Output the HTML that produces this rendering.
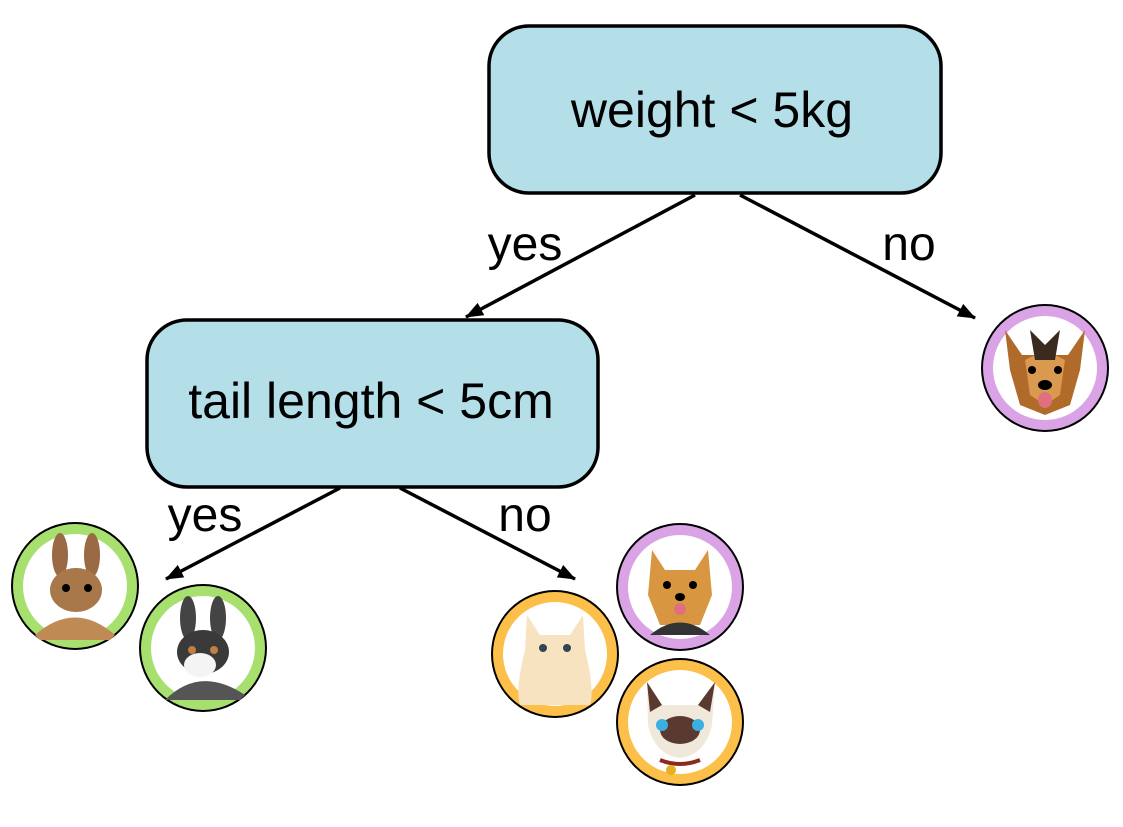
<!DOCTYPE html>
<html><head><style>
html,body{margin:0;padding:0;background:#fff;}
svg{display:block;}
text{font-family:"Liberation Sans",sans-serif;fill:#000;}
</style></head><body>
<svg width="1123" height="827" viewBox="0 0 1123 827" xmlns="http://www.w3.org/2000/svg">
<defs>
<marker id="a2" markerWidth="18" markerHeight="14" refX="17" refY="7" orient="auto" markerUnits="userSpaceOnUse">
<path d="M0,0 L18,7 L0,14 z" fill="#000"/>
</marker>
</defs>
<rect x="489" y="26" width="452" height="167" rx="40" fill="#b4dfe9" stroke="#000" stroke-width="3.5"/>
<text x="712" y="127" font-size="50" text-anchor="middle">weight &lt; 5kg</text>
<rect x="147" y="320" width="451" height="167" rx="40" fill="#b4dfe9" stroke="#000" stroke-width="3.5"/>
<text x="371" y="418" font-size="50" text-anchor="middle">tail length &lt; 5cm</text>

<g stroke="#000" stroke-width="3.5" fill="none">
<line x1="695" y1="195" x2="466" y2="317" marker-end="url(#a2)"/>
<line x1="740" y1="195" x2="975" y2="318" marker-end="url(#a2)"/>
<line x1="340" y1="488" x2="166" y2="579" marker-end="url(#a2)"/>
<line x1="400" y1="488" x2="575" y2="579" marker-end="url(#a2)"/>
</g>
<text x="525" y="260" font-size="48" text-anchor="middle">yes</text>
<text x="909" y="260" font-size="48" text-anchor="middle">no</text>
<text x="205" y="531" font-size="48" text-anchor="middle">yes</text>
<text x="525" y="531" font-size="48" text-anchor="middle">no</text>

<g>
<circle cx="1045" cy="368" r="64" fill="#000"/><circle cx="1045" cy="368" r="62" fill="#d9a3e6"/><circle cx="1045" cy="368" r="52" fill="#fff"/>
<path d="M1005,330 L1022,355 L1068,355 L1085,330 L1080,370 L1070,405 L1045,415 L1020,405 L1010,370 z" fill="#b06a2a"/>
<path d="M1025,360 L1045,350 L1065,360 L1060,395 L1045,405 L1030,395 z" fill="#d99a50"/>
<path d="M1030,330 L1045,345 L1060,330 L1055,360 L1035,360 z" fill="#3a2a20"/>
<circle cx="1032" cy="370" r="4" fill="#000"/><circle cx="1058" cy="370" r="4" fill="#000"/>
<ellipse cx="1045" cy="385" rx="7" ry="5" fill="#000"/><ellipse cx="1045" cy="400" rx="7" ry="8" fill="#e07080"/>

<circle cx="75" cy="586" r="64" fill="#000"/><circle cx="75" cy="586" r="62" fill="#a8e070"/><circle cx="75" cy="586" r="52" fill="#fff"/>
<ellipse cx="60" cy="555" rx="8" ry="22" fill="#9a6a45"/><ellipse cx="92" cy="555" rx="8" ry="22" fill="#9a6a45"/>
<ellipse cx="76" cy="590" rx="26" ry="22" fill="#a8774a"/><path d="M35,635 Q75,600 115,635 L110,640 L40,640 z" fill="#c08a55"/>
<circle cx="66" cy="588" r="4" fill="#000"/><circle cx="88" cy="588" r="4" fill="#000"/>

<circle cx="203" cy="648" r="64" fill="#000"/><circle cx="203" cy="648" r="62" fill="#a8e070"/><circle cx="203" cy="648" r="52" fill="#fff"/>
<ellipse cx="188" cy="618" rx="8" ry="22" fill="#444"/><ellipse cx="218" cy="618" rx="8" ry="22" fill="#444"/>
<ellipse cx="203" cy="652" rx="26" ry="22" fill="#3a3a3a"/><ellipse cx="200" cy="665" rx="16" ry="12" fill="#f4f4f4"/>
<path d="M165,700 Q200,665 245,695 L240,700 z" fill="#555"/>
<circle cx="192" cy="650" r="4" fill="#c08040"/><circle cx="214" cy="650" r="4" fill="#c08040"/>

<circle cx="555" cy="654" r="64" fill="#000"/><circle cx="555" cy="654" r="62" fill="#fcbf4a"/><circle cx="555" cy="654" r="52" fill="#fff"/>
<path d="M527,615 L540,635 L570,635 L583,615 L585,650 Q595,690 590,705 L520,705 Q515,690 525,650 z" fill="#f7e3c0"/>
<circle cx="543" cy="648" r="4" fill="#345"/><circle cx="567" cy="648" r="4" fill="#345"/>

<circle cx="680" cy="587" r="64" fill="#000"/><circle cx="680" cy="587" r="62" fill="#d9a3e6"/><circle cx="680" cy="587" r="52" fill="#fff"/>
<path d="M652,550 L665,570 L695,570 L708,550 L712,595 L700,625 L660,625 L648,595 z" fill="#d89640"/>
<path d="M650,635 Q680,610 710,635 z" fill="#333"/>
<circle cx="667" cy="585" r="4" fill="#000"/><circle cx="693" cy="585" r="4" fill="#000"/>
<ellipse cx="680" cy="597" rx="5" ry="4" fill="#000"/><ellipse cx="680" cy="609" rx="6" ry="6" fill="#e07080"/>

<circle cx="680" cy="722" r="64" fill="#000"/><circle cx="680" cy="722" r="62" fill="#fcbf4a"/><circle cx="680" cy="722" r="52" fill="#fff"/>
<path d="M647,682 L662,705 L698,705 L715,682 L712,725 Q705,755 680,758 Q655,755 648,725 z" fill="#f1e8dc"/>
<path d="M647,682 L662,705 L650,712 z M715,682 L698,705 L710,712 z" fill="#5a3a30"/>
<ellipse cx="680" cy="730" rx="20" ry="14" fill="#5a3a30"/>
<circle cx="662" cy="725" r="6" fill="#3ab0e0"/><circle cx="698" cy="725" r="6" fill="#3ab0e0"/>
<path d="M660,760 Q680,768 700,760" stroke="#8a2a20" stroke-width="4" fill="none"/>
<circle cx="671" cy="770" r="5" fill="#e8b020"/>
</g>
</svg>
</body></html>
